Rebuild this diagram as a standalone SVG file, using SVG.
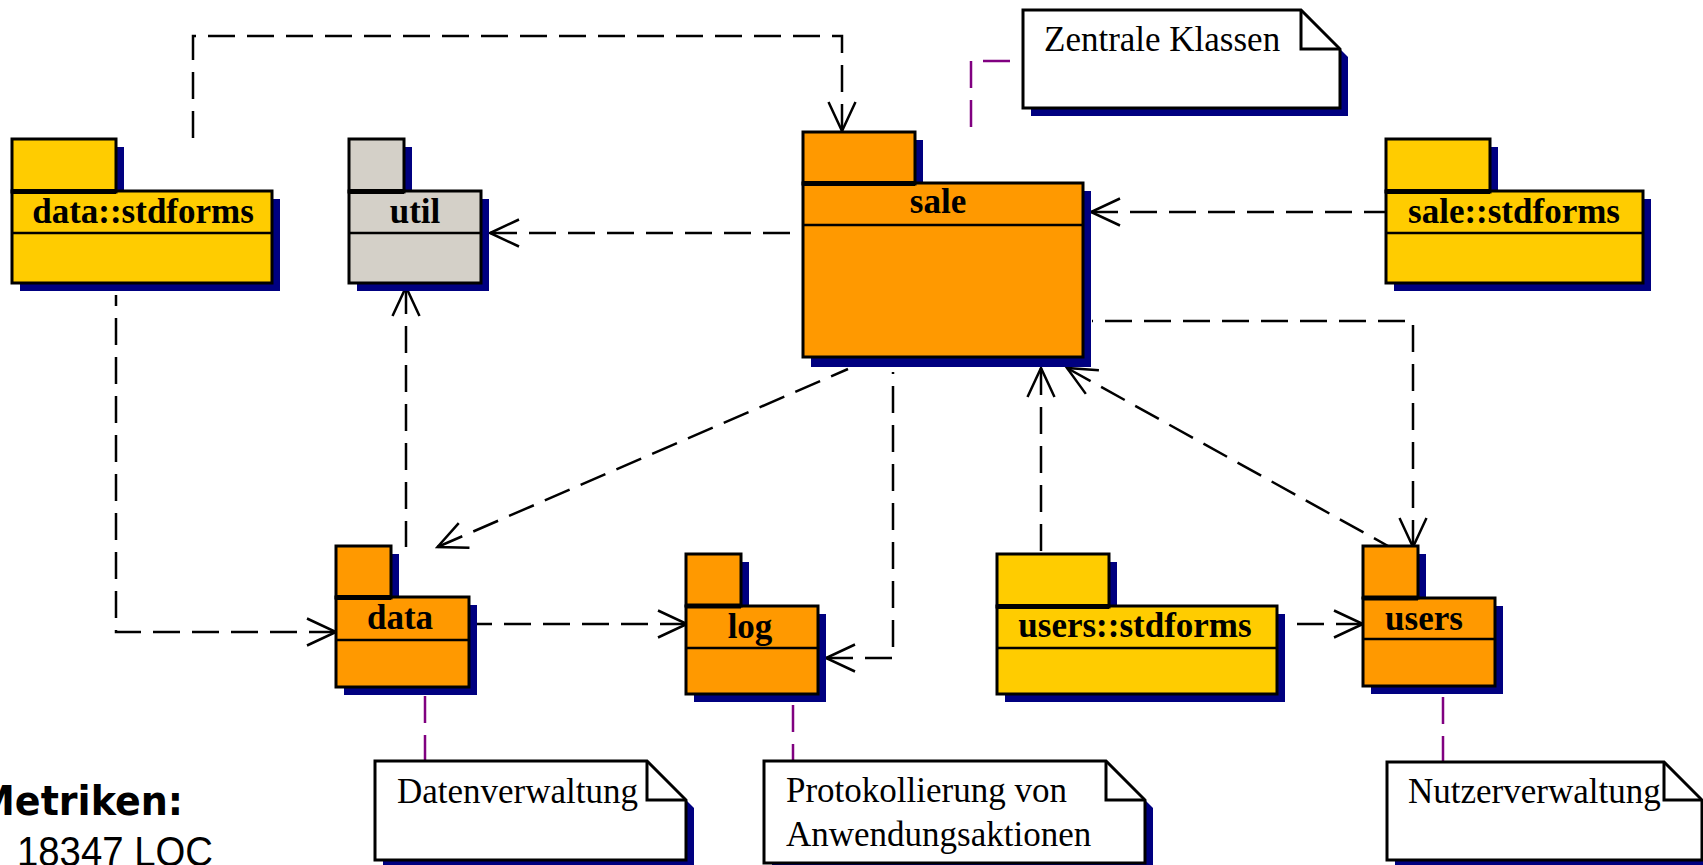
<svg xmlns="http://www.w3.org/2000/svg" width="1703" height="865" viewBox="0 0 1703 865">
<defs>
<style>
.sh{fill:#000080}
.pk{stroke:#000;stroke-width:3}
.y{fill:#FFCC00}.o{fill:#FF9900}.g{fill:#D4D0C8}
.tl{stroke:#000;stroke-width:5}
.sep{stroke:#000;stroke-width:2.5}
.nm{font-family:"Liberation Serif","Times New Roman",serif;font-weight:bold;font-size:35px;text-anchor:middle;fill:#000}
.note{fill:#fff;stroke:#000;stroke-width:3}
.fold{fill:none;stroke:#000;stroke-width:3}
.nt{font-family:"Liberation Serif","Times New Roman",serif;font-size:35px;fill:#000}
.dep{fill:none;stroke:#000;stroke-width:2.5;stroke-dasharray:27 12;marker-start:url(#arr)}
.anc{fill:none;stroke:#800080;stroke-width:2.5;stroke-dasharray:27 12}
</style>
<marker id="arr" markerUnits="userSpaceOnUse" orient="auto" refX="0" refY="0" markerWidth="40" markerHeight="40" viewBox="-2 -20 40 40" overflow="visible">
<path d="M29,-13.5 L0,0 L29,13.5" fill="none" stroke="#000" stroke-width="2.5" stroke-dasharray="none"/>
</marker>
</defs>
<rect width="1703" height="865" fill="#fff"/>

<g id="connectors">
<path class="dep" d="M842,131 V36 H193 V140"/>
<path class="dep" d="M490,233 H803"/>
<path class="dep" d="M1091,212 H1386"/>
<path class="dep" d="M1413,547 V321 H1092"/>
<path class="dep" d="M1067,368 L1388,546"/>
<path class="dep" d="M1041,368 V553"/>
<path class="dep" d="M1363,624 H1285"/>
<path class="dep" d="M437.5,547 L848,369"/>
<path class="dep" d="M406,287 V547"/>
<path class="dep" d="M336,632 H116 V295"/>
<path class="dep" d="M687,624 H477"/>
<path class="dep" d="M826,658 H893 V372"/>
<path class="anc" d="M971,127 V61 H1023"/>
<path class="anc" d="M425,696 V761"/>
<path class="anc" d="M793,705 V761"/>
<path class="anc" d="M1443,697 V762"/>
</g>

<g id="pkg-data-stdforms">
<rect class="sh" x="20" y="147" width="104" height="53"/>
<rect class="sh" x="20" y="199" width="260" height="92"/>
<rect class="pk y" x="12" y="191" width="260" height="92"/>
<rect class="pk y" x="12" y="139" width="104" height="53"/>
<line class="tl" x1="12" y1="191.5" x2="116" y2="191.5"/>
<line class="sep" x1="12" y1="233" x2="272" y2="233"/>
<text class="nm" x="143" y="223">data::stdforms</text>
</g>

<g id="pkg-util">
<rect class="sh" x="357" y="147" width="55" height="53"/>
<rect class="sh" x="357" y="199" width="132" height="92"/>
<rect class="pk g" x="349" y="191" width="132" height="92"/>
<rect class="pk g" x="349" y="139" width="55" height="53"/>
<line class="tl" x1="349" y1="191.5" x2="404" y2="191.5"/>
<line class="sep" x1="349" y1="233" x2="481" y2="233"/>
<text class="nm" x="415" y="223">util</text>
</g>

<g id="pkg-sale">
<rect class="sh" x="811" y="140" width="112" height="52"/>
<rect class="sh" x="811" y="191" width="280" height="176"/>
<rect class="pk o" x="803" y="183" width="280" height="174"/>
<rect class="pk o" x="803" y="132" width="112" height="52"/>
<line class="tl" x1="803" y1="183.5" x2="915" y2="183.5"/>
<line class="sep" x1="803" y1="225" x2="1083" y2="225"/>
<text class="nm" x="938" y="213">sale</text>
</g>

<g id="pkg-sale-stdforms">
<rect class="sh" x="1394" y="147" width="104" height="53"/>
<rect class="sh" x="1394" y="199" width="257" height="92"/>
<rect class="pk y" x="1386" y="191" width="257" height="92"/>
<rect class="pk y" x="1386" y="139" width="104" height="53"/>
<line class="tl" x1="1386" y1="191.5" x2="1490" y2="191.5"/>
<line class="sep" x1="1386" y1="233" x2="1643" y2="233"/>
<text class="nm" x="1514" y="223">sale::stdforms</text>
</g>

<g id="pkg-data">
<rect class="sh" x="344" y="554" width="55" height="52"/>
<rect class="sh" x="344" y="605" width="133" height="90"/>
<rect class="pk o" x="336" y="597" width="133" height="90"/>
<rect class="pk o" x="336" y="546" width="55" height="52"/>
<line class="tl" x1="336" y1="597.5" x2="391" y2="597.5"/>
<line class="sep" x1="336" y1="640" x2="469" y2="640"/>
<text class="nm" x="400" y="629">data</text>
</g>

<g id="pkg-log">
<rect class="sh" x="694" y="562" width="55" height="52"/>
<rect class="sh" x="694" y="614" width="132" height="88"/>
<rect class="pk o" x="686" y="606" width="132" height="88"/>
<rect class="pk o" x="686" y="554" width="55" height="52"/>
<line class="tl" x1="686" y1="606" x2="741" y2="606"/>
<line class="sep" x1="686" y1="648" x2="818" y2="648"/>
<text class="nm" x="750" y="638">log</text>
</g>

<g id="pkg-users-stdforms">
<rect class="sh" x="1005" y="562" width="112" height="53"/>
<rect class="sh" x="1005" y="614" width="280" height="88"/>
<rect class="pk y" x="997" y="606" width="280" height="88"/>
<rect class="pk y" x="997" y="554" width="112" height="53"/>
<line class="tl" x1="997" y1="606.5" x2="1109" y2="606.5"/>
<line class="sep" x1="997" y1="648" x2="1277" y2="648"/>
<text class="nm" x="1135" y="637">users::stdforms</text>
</g>

<g id="pkg-users">
<rect class="sh" x="1371" y="554" width="55" height="52"/>
<rect class="sh" x="1371" y="606" width="132" height="88"/>
<rect class="pk o" x="1363" y="598" width="132" height="88"/>
<rect class="pk o" x="1363" y="546" width="55" height="52"/>
<line class="tl" x1="1363" y1="598" x2="1418" y2="598"/>
<line class="sep" x1="1363" y1="639" x2="1495" y2="639"/>
<text class="nm" x="1424" y="630">users</text>
</g>

<g id="note-zentrale">
<path class="sh" d="M1031,18 H1309 L1348,57 V116 H1031 Z"/>
<path class="note" d="M1023,10 H1301 L1340,49 V108 H1023 Z"/>
<path class="fold" d="M1301,10 V49 H1340"/>
<text class="nt" x="1044" y="51">Zentrale Klassen</text>
</g>

<g id="note-daten">
<path class="sh" d="M383,769 H655 L694,808 V868 H383 Z"/>
<path class="note" d="M375,761 H647 L686,800 V860 H375 Z"/>
<path class="fold" d="M647,761 V800 H686"/>
<text class="nt" x="397" y="803">Datenverwaltung</text>
</g>

<g id="note-protokoll">
<path class="sh" d="M772,769 H1114 L1153,808 V871 H772 Z"/>
<path class="note" d="M764,761 H1106 L1145,800 V863 H764 Z"/>
<path class="fold" d="M1106,761 V800 H1145"/>
<text class="nt" x="786" y="802">Protokollierung von</text>
<text class="nt" x="786" y="846">Anwendungsaktionen</text>
</g>

<g id="note-nutzer">
<path class="sh" d="M1395,770 H1672 L1710,808 V868 H1395 Z"/>
<path class="note" d="M1387,762 H1664 L1702,800 V860 H1387 Z"/>
<path class="fold" d="M1664,762 V800 H1702"/>
<text class="nt" x="1408" y="803">Nutzerverwaltung</text>
</g>

<g id="metrics">
<text x="-23" y="815" font-family="'DejaVu Sans',sans-serif" font-weight="bold" font-size="40" textLength="206" lengthAdjust="spacingAndGlyphs">Metriken:</text>
<text x="17" y="866" font-family="'Liberation Sans',Arial,sans-serif" font-size="42" textLength="196" lengthAdjust="spacingAndGlyphs">18347 LOC</text>
</g>
</svg>
